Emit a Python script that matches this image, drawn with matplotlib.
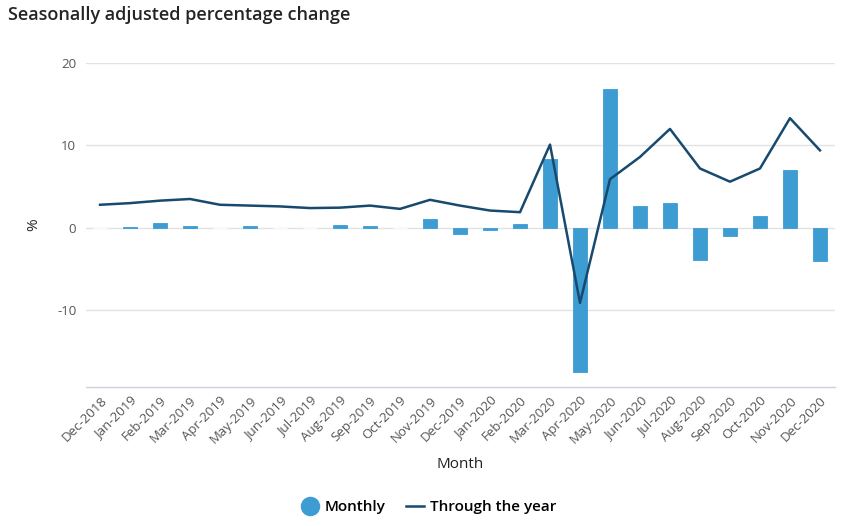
import matplotlib.pyplot as plt
from matplotlib.lines import Line2D
import numpy as np

plt.rcParams['font.family'] = ['Open Sans', 'DejaVu Sans']
plt.rcParams['axes.unicode_minus'] = False

# Data
months = ['Dec-2018', 'Jan-2019', 'Feb-2019', 'Mar-2019', 'Apr-2019', 'May-2019',
          'Jun-2019', 'Jul-2019', 'Aug-2019', 'Sep-2019', 'Oct-2019', 'Nov-2019',
          'Dec-2019', 'Jan-2020', 'Feb-2020', 'Mar-2020', 'Apr-2020', 'May-2020',
          'Jun-2020', 'Jul-2020', 'Aug-2020', 'Sep-2020', 'Oct-2020', 'Nov-2020',
          'Dec-2020']
monthly = [0.0, 0.1, 0.6, 0.2, 0.0, 0.2, 0.0, 0.0, 0.3, 0.2, 0.0, 1.1,
           -0.7, -0.3, 0.5, 8.4, -17.5, 16.8, 2.6, 3.0, -3.9, -1.0, 1.4, 7.0, -4.0]
through_year = [2.8, 3.0, 3.3, 3.5, 2.8, 2.7, 2.6, 2.4, 2.45, 2.7, 2.3, 3.4,
                2.7, 2.1, 1.9, 10.1, -9.1, 5.9, 8.6, 12.0, 7.2, 5.6, 7.2, 13.3, 9.4]
yticks = [-10, 0, 10, 20]

bar_color = '#3d9cd2'
line_color = '#174a6e'

fig = plt.figure(figsize=(8.57, 5.26), dpi=100)
ax = fig.add_axes([0.1003, 0.2643, 0.8740, 0.6160])

x = np.arange(len(months))
# zero-valued bars show up as small white breaks in the zero gridline
edges = ['white' if v == 0 else bar_color for v in monthly]
ax.bar(x, monthly, width=0.47, color=bar_color, edgecolor=edges, linewidth=0.6, zorder=2)
ax.plot(x, through_year, color=line_color, linewidth=1.8, zorder=3)

ax.set_xlim(-0.47, 24.5)
ax.set_ylim(-19.3, 20.0)
ax.set_yticks(yticks)
ax.set_xticks(x)
ax.set_xticklabels(months, rotation=45, ha='right', rotation_mode='anchor')
ax.tick_params(axis='both', length=0, labelsize=9.5, labelcolor='#555555')
ax.tick_params(axis='x', pad=5)
ax.tick_params(axis='y', pad=7)
ax.grid(axis='y', color='#e2e2e2', linewidth=1, zorder=0)
ax.set_axisbelow(True)
for side in ['top', 'left', 'right']:
    ax.spines[side].set_visible(False)
ax.spines['bottom'].set_color('#cdd3dc')
ax.spines['bottom'].set_linewidth(1)

ax.set_xlabel('Month', fontsize=11, color='#222222', labelpad=8)
ax.set_ylabel('%', fontsize=11, color='#222222', labelpad=11)

fig.text(0.009, 0.971, 'Seasonally adjusted percentage change', fontsize=13,
         fontweight='semibold', color='#252423', va='center', ha='left')

handles = [Line2D([], [], marker='o', linestyle='none', markersize=13,
                  markerfacecolor=bar_color, markeredgecolor=bar_color),
           Line2D([], [], color=line_color, linewidth=1.8)]
fig.legend(handles, ['Monthly', 'Through the year'], loc='center',
           bbox_to_anchor=(0.500, 0.036), ncol=2, frameon=False,
           prop={'size': 11, 'weight': 'semibold'},
           handlelength=1.2, handletextpad=0.4, columnspacing=1.3)

fig.savefig('out.png', dpi=100)
